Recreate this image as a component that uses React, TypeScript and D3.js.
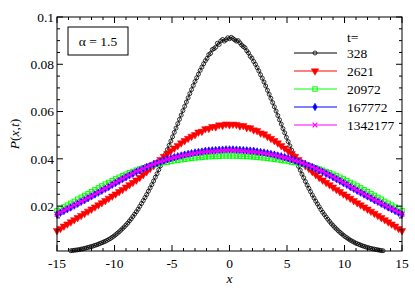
import React from 'react'
import * as d3 from 'd3'

// sample positions along x (coarse grid, used by the later times)
const xs = [
  -15, -14.7, -14.4, -14.1, -13.8, -13.5, -13.2, -12.9, -12.6, -12.3, -12, -11.7, -11.4, -11.1, -10.8, -10.5, -10.2,
  -9.9, -9.6, -9.3, -9, -8.7, -8.4, -8.1, -7.8, -7.5, -7.2, -6.9, -6.6, -6.3, -6, -5.7, -5.4, -5.1, -4.8, -4.5, -4.2,
  -3.9, -3.6, -3.3, -3, -2.7, -2.4, -2.1, -1.8, -1.5, -1.2, -0.9, -0.6, -0.3, 0, 0.3, 0.6, 0.9, 1.2, 1.5, 1.8, 2.1,
  2.4, 2.7, 3, 3.3, 3.6, 3.9, 4.2, 4.5, 4.8, 5.1, 5.4, 5.7, 6, 6.3, 6.6, 6.9, 7.2, 7.5, 7.8, 8.1, 8.4, 8.7, 9, 9.3,
  9.6, 9.9, 10.2, 10.5, 10.8, 11.1, 11.4, 11.7, 12, 12.3, 12.6, 12.9, 13.2, 13.5, 13.8, 14.1, 14.4, 14.7, 15,
]

// t = 328 is sampled on a finer grid
const xs328 = [
  -13.8, -13.65, -13.5, -13.35, -13.2, -13.05, -12.9, -12.75, -12.6, -12.45, -12.3, -12.15, -12, -11.85, -11.7,
  -11.55, -11.4, -11.25, -11.1, -10.95, -10.8, -10.65, -10.5, -10.35, -10.2, -10.05, -9.9, -9.75, -9.6, -9.45, -9.3,
  -9.15, -9, -8.85, -8.7, -8.55, -8.4, -8.25, -8.1, -7.95, -7.8, -7.65, -7.5, -7.35, -7.2, -7.05, -6.9, -6.75, -6.6,
  -6.45, -6.3, -6.15, -6, -5.85, -5.7, -5.55, -5.4, -5.25, -5.1, -4.95, -4.8, -4.65, -4.5, -4.35, -4.2, -4.05, -3.9,
  -3.75, -3.6, -3.45, -3.3, -3.15, -3, -2.85, -2.7, -2.55, -2.4, -2.25, -2.1, -1.95, -1.8, -1.65, -1.5, -1.35, -1.2,
  -1.05, -0.9, -0.75, -0.6, -0.45, -0.3, -0.15, 0, 0.15, 0.3, 0.45, 0.6, 0.75, 0.9, 1.05, 1.2, 1.35, 1.5, 1.65, 1.8,
  1.95, 2.1, 2.25, 2.4, 2.55, 2.7, 2.85, 3, 3.15, 3.3, 3.45, 3.6, 3.75, 3.9, 4.05, 4.2, 4.35, 4.5, 4.65, 4.8, 4.95,
  5.1, 5.25, 5.4, 5.55, 5.7, 5.85, 6, 6.15, 6.3, 6.45, 6.6, 6.75, 6.9, 7.05, 7.2, 7.35, 7.5, 7.65, 7.8, 7.95, 8.1,
  8.25, 8.4, 8.55, 8.7, 8.85, 9, 9.15, 9.3, 9.45, 9.6, 9.75, 9.9, 10.05, 10.2, 10.35, 10.5, 10.65, 10.8, 10.95, 11.1,
  11.25, 11.4, 11.55, 11.7, 11.85, 12, 12.15, 12.3, 12.45, 12.6, 12.75, 12.9, 13.05, 13.2, 13.35,
]
const p328 = [
  0.0011, 0.0012, 0.0013, 0.0014, 0.0015, 0.0016, 0.0018, 0.0019, 0.0021, 0.0023, 0.0025, 0.0027, 0.0029, 0.0031,
  0.0034, 0.0036, 0.0039, 0.0042, 0.0045, 0.0048, 0.0051, 0.0055, 0.0059, 0.0063, 0.0068, 0.0073, 0.0079, 0.0085,
  0.0091, 0.0098, 0.0105, 0.0112, 0.012, 0.0128, 0.0137, 0.0146, 0.0156, 0.0166, 0.0176, 0.0187, 0.0199, 0.0211,
  0.0223, 0.0236, 0.0249, 0.0263, 0.0277, 0.0291, 0.0306, 0.0322, 0.0337, 0.0354, 0.037, 0.0387, 0.0404, 0.0421,
  0.0439, 0.0457, 0.0475, 0.0493, 0.0512, 0.053, 0.0549, 0.0567, 0.0585, 0.0604, 0.0622, 0.064, 0.0658, 0.0676,
  0.0693, 0.071, 0.0727, 0.0743, 0.0758, 0.0774, 0.0788, 0.0802, 0.0815, 0.0825, 0.0841, 0.0846, 0.0862, 0.0866,
  0.0872, 0.0889, 0.0884, 0.0899, 0.0905, 0.0898, 0.0904, 0.0912, 0.0908, 0.0914, 0.0909, 0.0903, 0.0898, 0.09,
  0.0891, 0.0882, 0.0875, 0.087, 0.0857, 0.0848, 0.0834, 0.0826, 0.0812, 0.08, 0.0786, 0.0772, 0.0756, 0.0741,
  0.0725, 0.0708, 0.069, 0.0673, 0.0656, 0.0638, 0.062, 0.0602, 0.0583, 0.0565, 0.0547, 0.0528, 0.051, 0.0491,
  0.0473, 0.0455, 0.0437, 0.0419, 0.0402, 0.0385, 0.0368, 0.0352, 0.0335, 0.032, 0.0304, 0.0289, 0.0275, 0.0261,
  0.0247, 0.0234, 0.0221, 0.0209, 0.0197, 0.0185, 0.0174, 0.0164, 0.0154, 0.0144, 0.0135, 0.0126, 0.0118, 0.011,
  0.0103, 0.0096, 0.0089, 0.0083, 0.0077, 0.0071, 0.0066, 0.0061, 0.0056, 0.0052, 0.0048, 0.0044, 0.0041, 0.0038,
  0.0035, 0.0032, 0.003, 0.0027, 0.0025, 0.0023, 0.0021, 0.0019, 0.0018, 0.0016, 0.0015, 0.0013, 0.0012, 0.0011,
]

const p2621 = [
  0.0096, 0.0105, 0.0115, 0.0124, 0.0133, 0.0142, 0.0151, 0.016, 0.0169, 0.0178, 0.0187, 0.0196, 0.0205, 0.0214,
  0.0223, 0.0233, 0.0242, 0.0251, 0.0261, 0.027, 0.028, 0.029, 0.03, 0.031, 0.0321, 0.0333, 0.0346, 0.0359, 0.0371,
  0.0384, 0.0397, 0.041, 0.0422, 0.0434, 0.0445, 0.0456, 0.0467, 0.0477, 0.0486, 0.0495, 0.0502, 0.0513, 0.0516,
  0.0527, 0.0528, 0.0536, 0.0535, 0.0543, 0.0541, 0.0547, 0.0544, 0.0546, 0.0545, 0.0539, 0.054, 0.0532, 0.0531,
  0.0522, 0.0519, 0.0509, 0.0505, 0.0495, 0.0486, 0.0477, 0.0467, 0.0456, 0.0445, 0.0434, 0.0422, 0.041, 0.0397,
  0.0384, 0.0371, 0.0359, 0.0346, 0.0333, 0.0321, 0.031, 0.03, 0.029, 0.028, 0.027, 0.0261, 0.0251, 0.0242, 0.0233,
  0.0223, 0.0214, 0.0205, 0.0196, 0.0187, 0.0178, 0.0169, 0.016, 0.0151, 0.0142, 0.0133, 0.0124, 0.0115, 0.0105,
  0.0096,
]

const p20972 = [
  0.018, 0.0188, 0.0196, 0.0204, 0.0212, 0.022, 0.0229, 0.0237, 0.0245, 0.0253, 0.0261, 0.0269, 0.0277, 0.0285,
  0.0293, 0.03, 0.0308, 0.0315, 0.0322, 0.0328, 0.0335, 0.0341, 0.0346, 0.0352, 0.0357, 0.0362, 0.0366, 0.037,
  0.0374, 0.0377, 0.0381, 0.0384, 0.0386, 0.0389, 0.0392, 0.0394, 0.0396, 0.0398, 0.04, 0.0402, 0.0404, 0.0405,
  0.0406, 0.0408, 0.0409, 0.041, 0.041, 0.0411, 0.0412, 0.0412, 0.0412, 0.0412, 0.0412, 0.0411, 0.041, 0.041, 0.0409,
  0.0408, 0.0406, 0.0405, 0.0404, 0.0402, 0.04, 0.0398, 0.0396, 0.0394, 0.0392, 0.0389, 0.0386, 0.0384, 0.0381,
  0.0377, 0.0374, 0.037, 0.0366, 0.0362, 0.0357, 0.0352, 0.0346, 0.0341, 0.0335, 0.0328, 0.0322, 0.0315, 0.0308,
  0.03, 0.0293, 0.0285, 0.0277, 0.0269, 0.0261, 0.0253, 0.0245, 0.0237, 0.0229, 0.022, 0.0212, 0.0204, 0.0196,
  0.0188, 0.018,
]

const p167772 = [
  0.0164, 0.0172, 0.0179, 0.0187, 0.0194, 0.0202, 0.021, 0.0218, 0.0225, 0.0233, 0.0241, 0.0249, 0.0257, 0.0265,
  0.0273, 0.0281, 0.029, 0.0298, 0.0306, 0.0314, 0.0322, 0.033, 0.0337, 0.0345, 0.0351, 0.0358, 0.0365, 0.0371,
  0.0377, 0.0382, 0.0388, 0.0393, 0.0398, 0.0402, 0.0407, 0.0411, 0.0414, 0.0418, 0.0421, 0.0424, 0.0427, 0.0429,
  0.0431, 0.0434, 0.0435, 0.0436, 0.0437, 0.0438, 0.0439, 0.044, 0.044, 0.044, 0.0439, 0.0438, 0.0437, 0.0436,
  0.0435, 0.0434, 0.0431, 0.0429, 0.0427, 0.0424, 0.0421, 0.0418, 0.0414, 0.0411, 0.0407, 0.0402, 0.0398, 0.0393,
  0.0388, 0.0382, 0.0377, 0.0371, 0.0365, 0.0358, 0.0351, 0.0345, 0.0337, 0.033, 0.0322, 0.0314, 0.0306, 0.0298,
  0.029, 0.0281, 0.0273, 0.0265, 0.0257, 0.0249, 0.0241, 0.0233, 0.0225, 0.0218, 0.021, 0.0202, 0.0194, 0.0187,
  0.0179, 0.0172, 0.0164,
]

const p1342177 = [
  0.0166, 0.0174, 0.0181, 0.0189, 0.0196, 0.0204, 0.0212, 0.022, 0.0227, 0.0235, 0.0243, 0.0251, 0.0259, 0.0267,
  0.0275, 0.0283, 0.0292, 0.03, 0.0308, 0.0316, 0.0324, 0.0332, 0.0339, 0.0347, 0.0353, 0.0359, 0.0366, 0.0372,
  0.0377, 0.0382, 0.0388, 0.0392, 0.0397, 0.0401, 0.0405, 0.0409, 0.0412, 0.0416, 0.0418, 0.0421, 0.0424, 0.0426,
  0.0428, 0.043, 0.0431, 0.0432, 0.0433, 0.0434, 0.0435, 0.0436, 0.0436, 0.0436, 0.0435, 0.0434, 0.0433, 0.0432,
  0.0431, 0.043, 0.0428, 0.0426, 0.0424, 0.0421, 0.0418, 0.0416, 0.0412, 0.0409, 0.0405, 0.0401, 0.0397, 0.0392,
  0.0388, 0.0382, 0.0377, 0.0372, 0.0366, 0.0359, 0.0353, 0.0347, 0.0339, 0.0332, 0.0324, 0.0316, 0.0308, 0.03,
  0.0292, 0.0283, 0.0275, 0.0267, 0.0259, 0.0251, 0.0243, 0.0235, 0.0227, 0.022, 0.0212, 0.0204, 0.0196, 0.0189,
  0.0181, 0.0174, 0.0166,
]

const seriesNames = ['328', '2621', '20972', '167772', '1342177']
const seriesX = [xs328, xs, xs, xs, xs]
const seriesValues = [p328, p2621, p20972, p167772, p1342177]
const seriesColors = ['#000000', '#ff0000', '#00ff00', '#0000ff', '#ff00ff']

const xTicks = [-15, -10, -5, 0, 5, 10, 15]
const yTicks = [0.02, 0.04, 0.06, 0.08, 0.1]
const yTickLabels = ['0.02', '0.04', '0.06', '0.08', '0.1']

const width = 415
const height = 294
const margin = { top: 17, right: 13, bottom: 43, left: 57 }
const innerWidth = width - margin.left - margin.right
const innerHeight = height - margin.top - margin.bottom
const fontCss = "'Liberation Serif', 'DejaVu Serif', 'Times New Roman', Tinos, 'Noto Serif', serif"

const xScale = d3.scaleLinear().domain([-15, 15]).range([0, innerWidth])
const yScale = d3.scaleLinear().domain([0.001, 0.1]).range([innerHeight, 0])

const timesSym = (d3 as any).symbolTimes || (d3 as any).symbolX || d3.symbolCross

function Marker({ i, color }: { i: number; color: string }) {
  if (i === 0) return <circle r={2} fill="none" stroke={color} strokeWidth={0.8} />
  if (i === 1)
    return <path d={d3.symbol(d3.symbolTriangle, 24)()!} transform="rotate(180)" fill={color} stroke={color} strokeWidth={0.5} />
  if (i === 2) return <rect x={-2.2} y={-2.2} width={4.4} height={4.4} fill="none" stroke={color} strokeWidth={1} />
  if (i === 3) return <path d={d3.symbol(d3.symbolDiamond, 16)()!} fill={color} stroke={color} strokeWidth={0.6} />
  return <path d={d3.symbol(timesSym, 16)()!} fill="none" stroke={color} strokeWidth={1.2} />
}

export default function App() {
  const line = d3
    .line<[number, number]>()
    .x(d => xScale(d[0]))
    .y(d => yScale(d[1]))

  const xMinor = xScale.ticks(30)
  const yMinor = yScale.ticks(20).filter(v => v > 0.001)

  const legendY = [53, 71, 89, 107, 125]

  return (
    <svg width={width} height={height} style={{ position: 'absolute', left: 0, top: 0 }}>
      <style>{`text { font-family: ${fontCss}; font-size: 13.5px; }`}</style>
      <rect width={width} height={height} fill="#fff" />
      <g transform={`translate(${margin.left},${margin.top})`}>
        {seriesValues.map((vals, si) => {
          const pts = seriesX[si].map((x, k) => [x, vals[k]] as [number, number])
          return (
            <g key={si}>
              <path d={line(pts) || ''} fill="none" stroke={seriesColors[si]} strokeWidth={0.8} />
              {pts.map((p, k) => (
                <g key={k} transform={`translate(${xScale(p[0])},${yScale(p[1])})`}>
                  <Marker i={si} color={seriesColors[si]} />
                </g>
              ))}
            </g>
          )
        })}

        {/* frame */}
        <rect x={0} y={0} width={innerWidth} height={innerHeight} fill="none" stroke="#000" strokeWidth={1} />

        {/* x ticks, bottom and top */}
        {xMinor.map(v => {
          const major = xTicks.includes(v)
          const len = major ? 6 : 3
          return (
            <g key={v} transform={`translate(${xScale(v)},0)`}>
              <line y1={innerHeight} y2={innerHeight - len} stroke="#000" />
              <line y1={0} y2={len} stroke="#000" />
            </g>
          )
        })}
        {xTicks.map(v => (
          <text key={v} x={xScale(v)} y={innerHeight + 17} textAnchor="middle">
            {String(v)}
          </text>
        ))}

        {/* y ticks, left and right */}
        {yMinor.map(v => {
          const major = yTicks.some(t => Math.abs(t - v) < 1e-9)
          const len = major ? 6 : 3
          return (
            <g key={v} transform={`translate(0,${yScale(v)})`}>
              <line x1={0} x2={len} stroke="#000" />
              <line x1={innerWidth} x2={innerWidth - len} stroke="#000" />
            </g>
          )
        })}
        {yTicks.map((v, k) => (
          <text key={v} x={-3} y={yScale(v)} dy="0.35em" textAnchor="end">
            {yTickLabels[k]}
          </text>
        ))}
      </g>

      {/* axis titles */}
      <text x={margin.left + innerWidth / 2} y={283} textAnchor="middle" fontStyle="italic">
        x
      </text>
      <text transform={`translate(19,${margin.top + innerHeight / 2}) rotate(-90)`} textAnchor="middle">
        <tspan fontStyle="italic">P</tspan>(<tspan fontStyle="italic">x</tspan>,<tspan fontStyle="italic">t</tspan>)
      </text>

      {/* alpha box */}
      <rect x={68} y={27} width={60} height={28} fill="#fff" stroke="#000" strokeWidth={1} />
      <text x={98} y={41} dy="0.35em" textAnchor="middle">
        α = 1.5
      </text>

      {/* legend */}
      <text x={347} y={37} dy="0.35em">
        t=
      </text>
      {seriesNames.map((name, si) => (
        <g key={name} transform={`translate(0,${legendY[si]})`}>
          <line x1={294} x2={337} stroke={seriesColors[si]} strokeWidth={1} />
          <g transform="translate(315,0)">
            <Marker i={si} color={seriesColors[si]} />
          </g>
          <text x={347} dy="0.35em">
            {name}
          </text>
        </g>
      ))}
    </svg>
  )
}
